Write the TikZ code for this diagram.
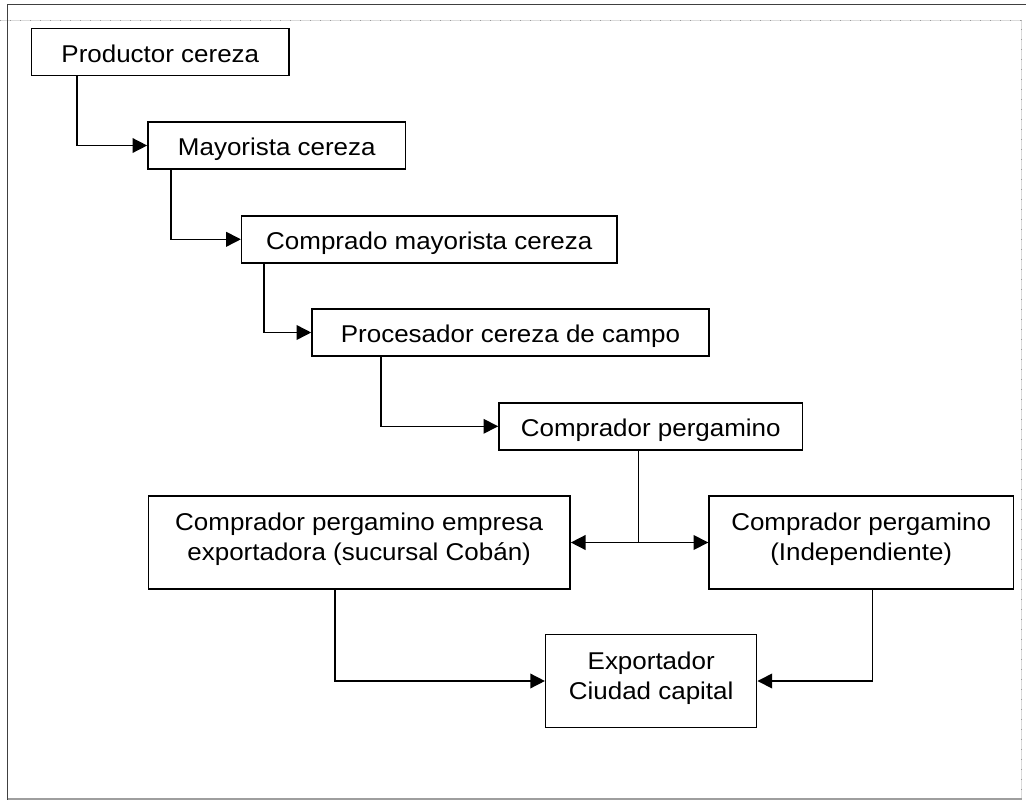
\documentclass[tikz,border=0pt]{standalone}
\usepackage{fontspec}
\setmainfont{Liberation Sans}[FakeStretch=1.07]
\usetikzlibrary{arrows.meta}
\newcommand\twoline[2]{\vtop{\baselineskip=22.5pt\halign{\hfil##\hfil\cr#1\cr#2\cr}}}
\begin{document}
\begin{tikzpicture}[x=0.75pt,y=-0.75pt,
  box/.style={draw,line width=1.15pt,inner sep=0pt,font=\fontsize{18.2pt}{22.5pt}\selectfont},
  one/.style={box,text height=15.45pt,text depth=0pt,minimum height=35.3pt},
  two/.style={box,text height=13.5pt,text depth=31.5pt,minimum height=70pt},
  line/.style={line width=1.15pt},
  conn/.style={line,-{Triangle[length=11pt,width=11pt]}},
  framedark/.style={draw=black!75,line width=1.1pt},
  framelight/.style={draw=black!38,line width=1.1pt},
  guide/.style={draw=black!14,line width=0.5pt},
  guidedots/.style={draw=black!40,line width=0.6pt,dash pattern=on 0.75pt off 6.75pt}]
\useasboundingbox (0,0) rectangle (1026,800);
% page frame and guides
\draw[guide] (0,20) -- (1021,20) -- (1021,800);
\draw[guidedots] (0,20) -- (1021,20) -- (1021,800);
\draw[framedark] (1026,4.5) -- (7.5,4.5) -- (7.5,800);
\draw[framelight] (7.5,799) -- (1022,799);
% boxes
\node[one,minimum width=193pt]   (prod) at (160.3,51.8)  {Productor cereza};
\node[one,minimum width=193.3pt] (may)  at (276.8,145.5) {Mayorista cereza};
\node[one,minimum width=281.5pt] (comp) at (429.3,239.3) {Comprado mayorista cereza};
\node[one,minimum width=297.75pt](proc) at (510.5,332.5) {Procesador cereza de campo};
\node[one,minimum width=227.8pt] (perg) at (650.8,426.3) {Comprador pergamino};
\node[two,minimum width=316.3pt] (emp)  at (359.2,542.5) {\twoline{Comprador pergamino empresa}{exportadora (sucursal Cobán)}};
\node[two,minimum width=228.2pt] (ind)  at (861.2,542.5) {\twoline{Comprador pergamino}{(Independiente)}};
\node[two,minimum width=158.25pt,minimum height=69.5pt] (exp) at (651.2,681) {\twoline{Exportador}{Ciudad capital}};
% connectors
\draw[conn] (prod.south west) ++(46.3,0) |- (may.west);
\draw[conn] (may.south west) ++(24,0) |- (comp.west);
\draw[conn] (comp.south west) ++(23.3,0) |- (proc.west);
\draw[conn] (proc.south west) ++(69.7,0) |- (perg.west);
\draw[line] (perg.south west) ++(140.5,0) coordinate (top) -- (top |- emp.east) coordinate (split);
\draw[conn] (split) -- (emp.east);
\draw[conn] (split) -- (ind.west);
\draw[conn] (emp.south west) ++(187.2,0) |- (exp.west);
\draw[conn] (ind.south west) ++(164,0) |- (exp.east);
\end{tikzpicture}
\end{document}
